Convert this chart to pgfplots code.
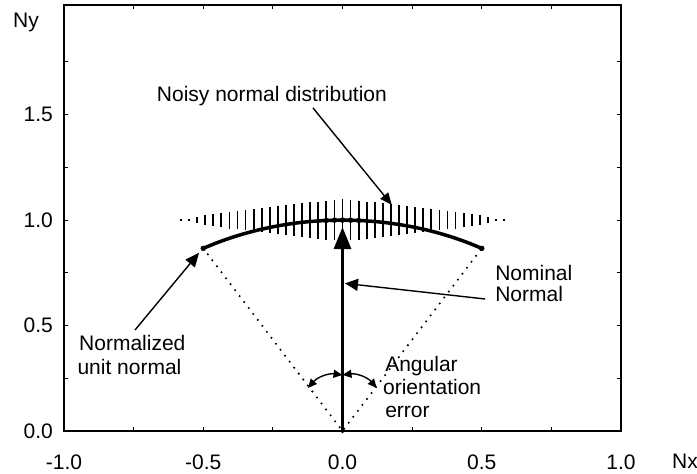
\documentclass[border=0pt]{standalone}
\usepackage{fontspec}
\setmainfont{Liberation Sans}
\usepackage{pgfplots}
\pgfplotsset{compat=1.18}
\usetikzlibrary{arrows.meta}

\begin{document}
\begin{tikzpicture}[font=\fontsize{21bp}{24bp}\selectfont]
\begin{axis}[
    scale only axis, width=557bp, height=426bp,
    xmin=-1, xmax=1, ymin=0, ymax=2.02,
    xtick={-1,-0.75,-0.5,-0.25,0,0.25,0.5,0.75,1},
    xticklabels={-1.0,,-0.5,,0.0,,0.5,,1.0},
    ytick={0,0.25,0.5,0.75,1,1.25,1.5,1.75},
    yticklabels={0.0,,0.5,,1.0,,1.5,},
    tick align=inside, major tick length=4.5bp,
    tick style={black, line width=1bp},
    axis line style={line width=1.2bp},
    xticklabel style={anchor=base, yshift=-38bp},
    yticklabel style={anchor=east, inner sep=0pt, xshift=-11bp},
    clip=false,
]
\coordinate (bl) at (rel axis cs:0,0);
\coordinate (tr) at (rel axis cs:1,1);

% noisy normal distribution: spread of Ny around 1.0 at each Nx
\addplot[draw=none, mark=none,
    error bars/.cd, y dir=both, y explicit, error mark=none,
    error bar style={draw=black, solid, line width=1.8bp}] coordinates {
(-0.580,1) +- (0,0.004)
(-0.551,1) +- (0,0.006)
(-0.522,1) +- (0,0.016)
(-0.493,1) +- (0,0.022)
(-0.464,1) +- (0,0.027)
(-0.435,1) +- (0,0.033)
(-0.406,1) +- (0,0.040)
(-0.377,1) +- (0,0.043)
(-0.348,1) +- (0,0.048)
(-0.319,1) +- (0,0.053)
(-0.290,1) +- (0,0.057)
(-0.261,1) +- (0,0.062)
(-0.232,1) +- (0,0.067)
(-0.203,1) +- (0,0.072)
(-0.174,1) +- (0,0.077)
(-0.145,1) +- (0,0.080)
(-0.116,1) +- (0,0.085)
(-0.087,1) +- (0,0.088)
(-0.058,1) +- (0,0.092)
(-0.029,1) +- (0,0.096)
(0.000,1) +- (0,0.099)
(0.029,1) +- (0,0.096)
(0.058,1) +- (0,0.092)
(0.087,1) +- (0,0.088)
(0.116,1) +- (0,0.085)
(0.145,1) +- (0,0.080)
(0.174,1) +- (0,0.077)
(0.203,1) +- (0,0.072)
(0.232,1) +- (0,0.067)
(0.261,1) +- (0,0.062)
(0.290,1) +- (0,0.057)
(0.319,1) +- (0,0.053)
(0.348,1) +- (0,0.048)
(0.377,1) +- (0,0.043)
(0.406,1) +- (0,0.040)
(0.435,1) +- (0,0.033)
(0.464,1) +- (0,0.027)
(0.493,1) +- (0,0.022)
(0.522,1) +- (0,0.016)
(0.551,1) +- (0,0.006)
(0.580,1) +- (0,0.004)
};

% cone edges
\addplot[black, line width=2.3bp, line cap=round, dash pattern=on 0pt off 7.5bp] coordinates {
(-0.5,0.866) (0,0) (0.5,0.866)
};

% normalized unit normals (arc)
\addplot[black, line width=3.5bp, smooth] coordinates {
(-0.50,0.8660) (-0.45,0.8930) (-0.40,0.9165) (-0.35,0.9367) (-0.30,0.9539)
(-0.25,0.9682) (-0.20,0.9798) (-0.15,0.9887) (-0.10,0.9950) (-0.05,0.9987)
(0.00,1.0000)
(0.05,0.9987) (0.10,0.9950) (0.15,0.9887) (0.20,0.9798) (0.25,0.9682)
(0.30,0.9539) (0.35,0.9367) (0.40,0.9165) (0.45,0.8930) (0.50,0.8660)
};
\addplot[only marks, mark=*, mark size=2.5bp, black] coordinates {
(-0.5,0.866) (-0.058,0.9983) (-0.029,0.9996) (0,1) (0.029,0.9996) (0.058,0.9983) (0.5,0.866)
};

% nominal normal
\addplot[black, line width=3bp, -{Triangle[length=22bp, width=17bp]}] coordinates {
(0,0) (0,0.967)
};
\addplot[only marks, mark=o, mark size=1.8bp, black, line width=0.8bp] coordinates {(0,0)};

% annotations
\draw[line width=1.4bp, -{Triangle[length=12bp, width=10bp]}] (axis cs:-0.106,1.532) -- (axis cs:0.177,1.072);
\draw[line width=1.4bp, -{Triangle[length=14bp, width=12bp]}] (axis cs:-0.745,0.479) -- (axis cs:-0.515,0.845);
\draw[line width=1.4bp, -{Triangle[length=13bp, width=12bp]}] (axis cs:0.512,0.626) -- (axis cs:0.009,0.700);
\draw[line width=1.4bp, {Triangle[length=9bp, width=8bp]}-{Triangle[length=9bp, width=8bp]}]
    (axis cs:-0.124,0.204) to[bend left=28] (axis cs:0,0.266);
\draw[line width=1.4bp, {Triangle[length=9bp, width=8bp]}-{Triangle[length=9bp, width=8bp]}]
    (axis cs:0,0.266) to[bend left=28] (axis cs:0.123,0.204);

\node[anchor=base west, inner sep=0pt] at (axis cs:-0.667,1.561) {Noisy normal distribution};
\node[anchor=base west, inner sep=0pt] at (axis cs:-0.946,0.384) {Normalized};
\node[anchor=base west, inner sep=0pt] at (axis cs:-0.952,0.270) {unit normal};
\node[anchor=base west, inner sep=0pt] at (axis cs:0.548,0.716) {Nominal};
\node[anchor=base west, inner sep=0pt] at (axis cs:0.548,0.612) {Normal};
\node[anchor=base west, inner sep=0pt] at (axis cs:0.153,0.280) {Angular};
\node[anchor=base west, inner sep=0pt] at (axis cs:0.145,0.171) {orientation};
\node[anchor=base west, inner sep=0pt] at (axis cs:0.153,0.066) {error};

\node[anchor=base west, inner sep=0pt] at (axis cs:-1.183,1.911) {Ny};
\node[anchor=base west, inner sep=0pt] at (axis cs:1.183,-0.180) {Nx};
\end{axis}
\pgfresetboundingbox
\path[use as bounding box] ([xshift=-64bp,yshift=-43bp]bl) rectangle ([xshift=76bp,yshift=5bp]tr);
\end{tikzpicture}
\end{document}
